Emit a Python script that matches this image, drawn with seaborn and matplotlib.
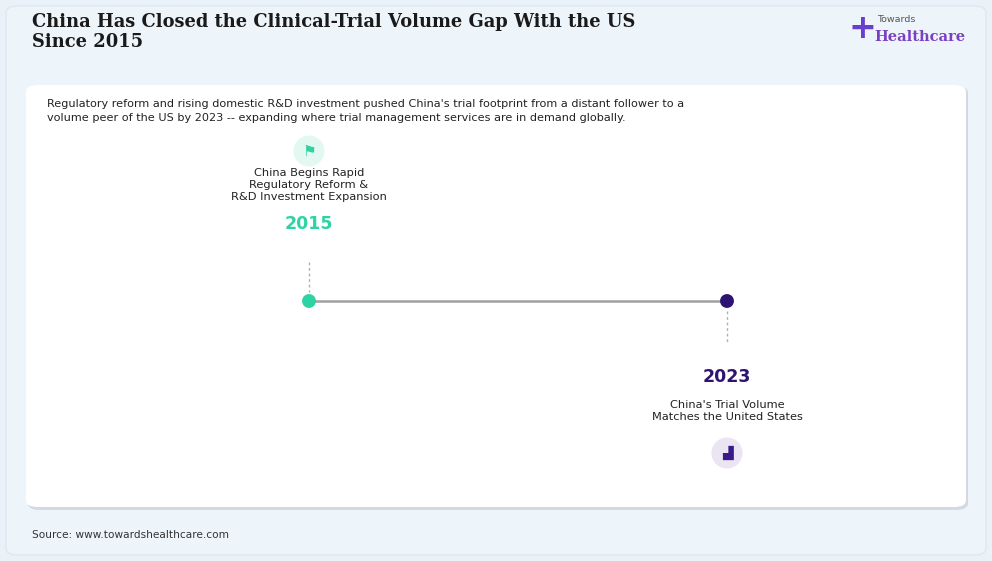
import matplotlib
matplotlib.use("Agg")
import matplotlib.pyplot as plt
import seaborn as sns
import pandas as pd
from matplotlib.patches import FancyBboxPatch

years = [2015, 2023]
labels = ["China Begins Rapid\nRegulatory Reform &\nR&D Investment Expansion",
          "China's Trial Volume\nMatches the United States"]
colors = ["#2ed3a3", "#2e1470"]

sns.set_theme(style="white")
plt.rcParams['font.family'] = ['DejaVu Sans']

W, H = 992, 561
fig = plt.figure(figsize=(W/100, H/100), dpi=100)
fig.patch.set_facecolor("#eaf2f9")

def fx(x): return x / W
def fy(y): return 1 - y / H

for (x0, y0, w, h, fc, ec) in [(6, 555, 980, 549, "#edf4fa", "#dfe7ef"),
                                (28, 510, 940, 424, "#d3d9df", "none"),
                                (26, 507, 940, 422, "white", "none")]:
    p = FancyBboxPatch((fx(x0), fy(y0)), fx(w), h/H, boxstyle="round,pad=0,rounding_size=0.012",
                       transform=fig.transFigure, fc=fc, ec=ec, lw=1, zorder=-5)
    fig.patches.append(p)

fig.text(fx(32), fy(32), "China Has Closed the Clinical-Trial Volume Gap With the US\nSince 2015",
         fontsize=12.9, fontweight="bold", family="DejaVu Serif", color="#1a1a1a", va="center", linespacing=1.15)
fig.text(fx(47), fy(111), "Regulatory reform and rising domestic R&D investment pushed China's trial footprint from a distant follower to a\n"
         "volume peer of the US by 2023 -- expanding where trial management services are in demand globally.",
         fontsize=8.1, color="#222222", va="center", linespacing=1.5)
fig.text(fx(32), fy(535), "Source: www.towardshealthcare.com", fontsize=7.6, color="#333333", va="center")

# logo
fig.text(fx(877), fy(20), "Towards", fontsize=6.8, color="#555555", va="center")
fig.text(fx(874), fy(37), "Healthcare", fontsize=10.5, family="DejaVu Serif", color="#7b3fc4", va="center", fontweight="bold")
fig.text(fx(862), fy(29), "+", fontsize=24, color="#6a3fd0", ha="center", va="center", fontweight="bold")

# timeline axes
ax = fig.add_axes([fx(26), fy(507), fx(940), 422/H])
ax.set_facecolor("none")
ppy = 418 / 8
ax.set_xlim(2015 - (309 - 26) / ppy, 2023 + (966 - 727) / ppy)
ax.set_ylim(507, 85)
ax.axis("off")

df = pd.DataFrame({"year": years, "y": [301, 301], "c": colors})
sns.lineplot(data=df, x="year", y="y", ax=ax, color="#a0a0a0", lw=1.8, zorder=1)
sns.scatterplot(data=df, x="year", y="y", hue="c", palette={c: c for c in colors}, s=100,
                edgecolor="none", legend=False, ax=ax, zorder=3)

ax.plot([years[0]] * 2, [262, 292], ls=(0, (2, 2)), color="#b0b0b0", lw=1)
ax.text(years[0], 224, str(years[0]), ha="center", va="center", fontsize=12.5, fontweight="bold", color=colors[0])
ax.text(years[0], 185, labels[0], ha="center", va="center", fontsize=8.2, color="#222222", linespacing=1.2)
ax.scatter([years[0]], [151], s=500, color="#e2f8f1", edgecolor="none", zorder=2)
ax.text(years[0], 151, "⚑", ha="center", va="center", fontsize=11, color=colors[0], zorder=3)

ax.plot([years[1]] * 2, [311, 342], ls=(0, (2, 2)), color="#b0b0b0", lw=1)
ax.text(years[1], 377, str(years[1]), ha="center", va="center", fontsize=12.5, fontweight="bold", color=colors[1])
ax.text(years[1], 411, labels[1], ha="center", va="center", fontsize=8.2, color="#222222", linespacing=1.2)
ax.scatter([years[1]], [453], s=500, color="#ebe4f2", edgecolor="none", zorder=2)
ax.text(years[1], 453, "▟", ha="center", va="center", fontsize=10, color="#3a1a8a", zorder=3)

fig.savefig("out.png", dpi=100, facecolor=fig.get_facecolor())
